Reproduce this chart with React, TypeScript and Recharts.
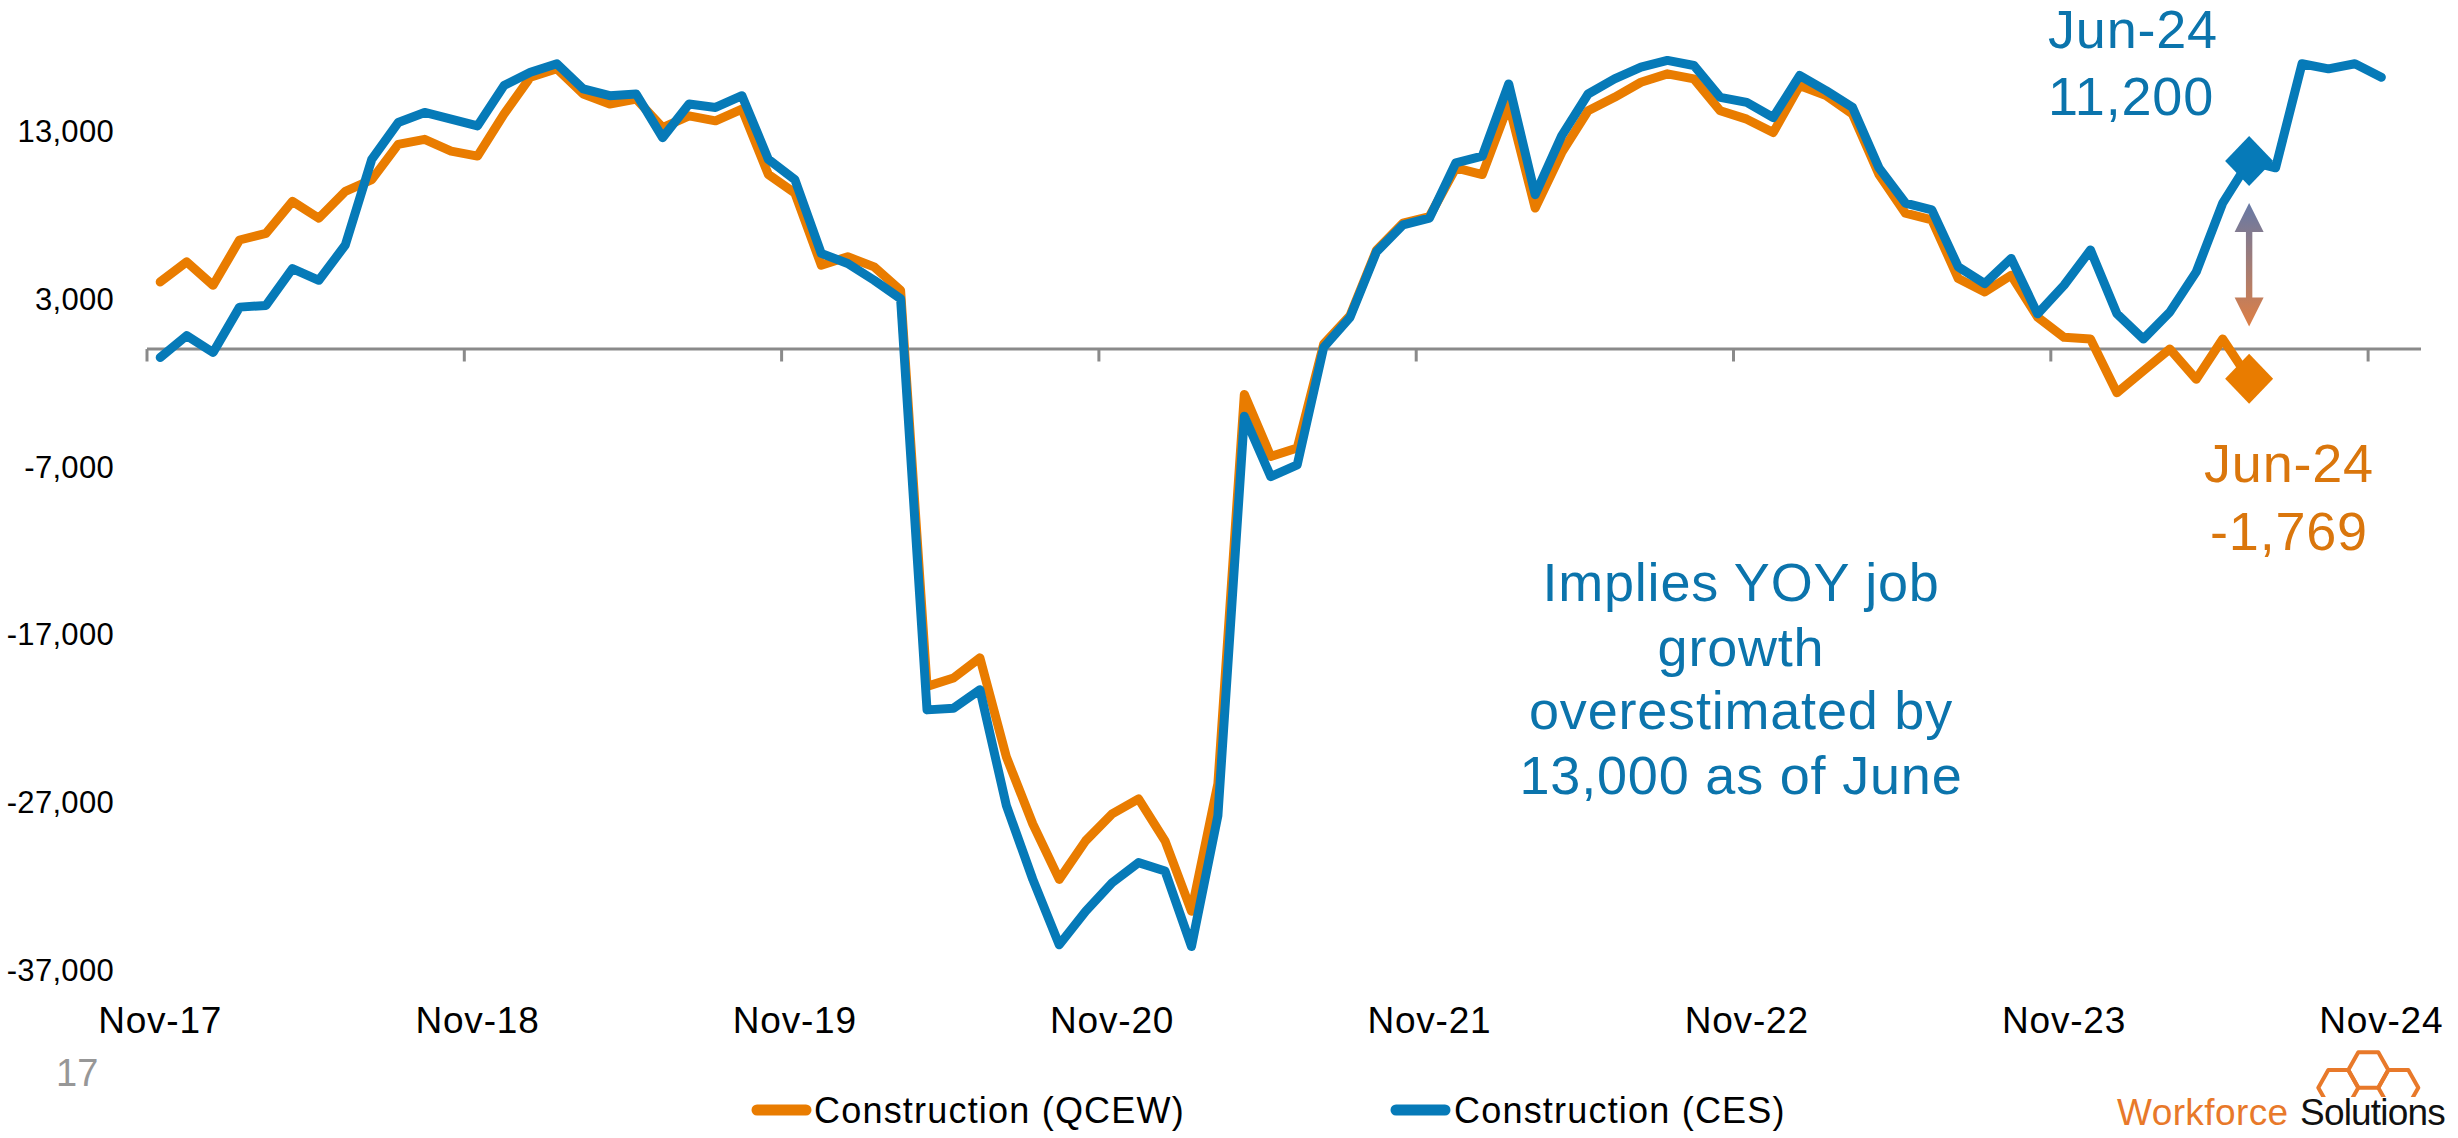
import React from 'react';
import { LineChart, Line, XAxis, YAxis, ReferenceLine } from 'recharts';

const months = [
  'Nov-17', 'Dec-17',
  'Jan-18', 'Feb-18', 'Mar-18', 'Apr-18', 'May-18', 'Jun-18', 'Jul-18', 'Aug-18', 'Sep-18', 'Oct-18', 'Nov-18', 'Dec-18',
  'Jan-19', 'Feb-19', 'Mar-19', 'Apr-19', 'May-19', 'Jun-19', 'Jul-19', 'Aug-19', 'Sep-19', 'Oct-19', 'Nov-19', 'Dec-19',
  'Jan-20', 'Feb-20', 'Mar-20', 'Apr-20', 'May-20', 'Jun-20', 'Jul-20', 'Aug-20', 'Sep-20', 'Oct-20', 'Nov-20', 'Dec-20',
  'Jan-21', 'Feb-21', 'Mar-21', 'Apr-21', 'May-21', 'Jun-21', 'Jul-21', 'Aug-21', 'Sep-21', 'Oct-21', 'Nov-21', 'Dec-21',
  'Jan-22', 'Feb-22', 'Mar-22', 'Apr-22', 'May-22', 'Jun-22', 'Jul-22', 'Aug-22', 'Sep-22', 'Oct-22', 'Nov-22', 'Dec-22',
  'Jan-23', 'Feb-23', 'Mar-23', 'Apr-23', 'May-23', 'Jun-23', 'Jul-23', 'Aug-23', 'Sep-23', 'Oct-23', 'Nov-23', 'Dec-23',
  'Jan-24', 'Feb-24', 'Mar-24', 'Apr-24', 'May-24', 'Jun-24', 'Jul-24', 'Aug-24', 'Sep-24', 'Oct-24', 'Nov-24', 'Dec-24',
];

// Construction (QCEW), Nov-17 .. Jun-24
const qcew = [
  4000, 5200, 3800, 6500, 6900, 8800, 7800, 9400, 10100, 12200, 12500, 11800,
  11500, 14000, 16200, 16700, 15200, 14600, 14900, 13200, 13900, 13600, 14300, 10400,
  9300, 5000, 5500, 4900, 3500, -20100, -19600, -18400, -24300, -28300, -31600, -29300,
  -27700, -26800, -29300, -33500, -25900, -2700, -6400, -5900, 300, 2000, 5900, 7500,
  7900, 10800, 10400, 14600, 8400, 11700, 14200, 15000, 15900, 16400, 16100, 14200,
  13700, 12900, 15700, 15100, 14000, 10400, 8100, 7700, 4200, 3400, 4400, 1900,
  700, 600, -2600, -1300, 0, -1800, 600, -1769,
];

// Construction (CES), Nov-17 .. Nov-24
const ces = [
  -500, 800, -200, 2500, 2600, 4800, 4100, 6200, 11300, 13500, 14100, 13700,
  13300, 15700, 16500, 17000, 15500, 15100, 15200, 12600, 14600, 14400, 15100, 11300,
  10100, 5700, 5100, 4100, 3000, -21500, -21400, -20300, -27200, -31600, -35500, -33500,
  -31800, -30600, -31100, -35600, -27800, -4000, -7600, -6900, 100, 1900, 5800, 7400,
  7800, 11100, 11500, 15800, 9200, 12700, 15200, 16100, 16800, 17200, 16900, 15000,
  14700, 13800, 16300, 15400, 14400, 10800, 8700, 8300, 4900, 3900, 5400, 2100,
  3800, 5900, 2100, 600, 2200, 4600, 8700, 11200, 10800, 17000, 16700, 17000,
  16200,
];

const yTicks = [-37000, -27000, -17000, -7000, 3000, 13000];
const xLabelIndex = [0, 12, 24, 36, 48, 60, 72, 84];
const axisTickAt = [-0.5, 11.5, 23.5, 35.5, 47.5, 59.5, 71.5, 83.5];
const highlightIndex = 79;
const arrowTop = 8700;
const arrowBottom = 1350;

const seriesNames = ['Construction (QCEW)', 'Construction (CES)'];
const ORANGE = '#E97C00';
const BLUE = '#067AB8';
const BLUE_TEXT = '#0B74AC';
const ORANGE_TEXT = '#DA760C';
const LOGO_ORANGE = '#E8792A';
const FONT = '"Liberation Sans", Arial, sans-serif';

const data = months.map((m, i) => ({
  i,
  month: m,
  qcew: i < qcew.length ? qcew[i] : null,
  ces: i < ces.length ? ces[i] : null,
}));

const fmt = (v: number) => v.toLocaleString('en-US');

const makeDot = (color: string) => (props: any) => {
  const { cx, cy, index } = props;
  if (index !== highlightIndex || cx == null || cy == null) return <g key={`dot-${index}`} />;
  return (
    <polygon
      key={`dot-${index}`}
      points={`${cx},${cy - 25} ${cx + 24},${cy} ${cx},${cy + 25} ${cx - 24},${cy}`}
      fill={color}
    />
  );
};

const ArrowShape = (props: any) => {
  const { x1, y1, y2 } = props;
  const x = x1;
  const top = Math.min(y1, y2);
  const bot = Math.max(y1, y2);
  const head = 29;
  const hw = 14.5;
  const sw = 3.2;
  const d = `M${x},${top} L${x + hw},${top + head} L${x + sw},${top + head} L${x + sw},${bot - head} L${x + hw},${bot - head} L${x},${bot} L${x - hw},${bot - head} L${x - sw},${bot - head} L${x - sw},${top + head} L${x - hw},${top + head} Z`;
  return (
    <g>
      <defs>
        <linearGradient id="arrowGrad" gradientUnits="userSpaceOnUse" x1={x} y1={top} x2={x} y2={bot}>
          <stop offset="0" stopColor="#6679A6" />
          <stop offset="1" stopColor="#DE7F45" />
        </linearGradient>
      </defs>
      <path d={d} fill="url(#arrowGrad)" />
    </g>
  );
};

const hexPath = (cx: number, cy: number, w: number, h: number) => {
  const a = w / 2, b = w / 4, c = h / 2;
  return `M${cx - a},${cy} L${cx - b},${cy - c} L${cx + b},${cy - c} L${cx + a},${cy} L${cx + b},${cy + c} L${cx - b},${cy + c} Z`;
};

export default function App() {
  return (
    <div style={{ position: 'absolute', left: 0, top: 0, width: 2458, height: 1138, background: '#fff', fontFamily: FONT }}>
      <LineChart
        width={2458}
        height={1138}
        data={data}
        margin={{ top: 47, right: 37, bottom: 108, left: 0 }}
      >
        <XAxis
          type="number"
          dataKey="i"
          domain={[-0.5, 85.5]}
          ticks={xLabelIndex}
          interval={0}
          tickFormatter={(v: number) => months[v]}
          axisLine={false}
          tickLine={false}
          tickSize={0}
          tickMargin={37}
          height={60}
          tick={{ fontSize: 37, fill: '#000', fontFamily: FONT, letterSpacing: 0.8 }}
        />
        <YAxis
          type="number"
          domain={[-37000, 18000]}
          ticks={yTicks}
          interval={0}
          tickFormatter={fmt}
          axisLine={false}
          tickLine={false}
          tickSize={0}
          tickMargin={33}
          width={147}
          tick={{ fontSize: 31, fill: '#000', fontFamily: FONT, letterSpacing: 0.3 }}
        />
        <ReferenceLine y={0} stroke="#8A8A8A" strokeWidth={3} />
        {axisTickAt.map((t) => (
          <ReferenceLine
            key={`tk-${t}`}
            segment={[{ x: t, y: 0 }, { x: t, y: -740 }]}
            stroke="#8A8A8A"
            strokeWidth={3}
            ifOverflow="visible"
          />
        ))}
        <Line
          type="linear"
          dataKey="qcew"
          name={seriesNames[0]}
          stroke={ORANGE}
          strokeWidth={9}
          strokeLinejoin="round"
          strokeLinecap="round"
          dot={makeDot(ORANGE)}
          activeDot={false}
          isAnimationActive={false}
        />
        <Line
          type="linear"
          dataKey="ces"
          name={seriesNames[1]}
          stroke={BLUE}
          strokeWidth={9}
          strokeLinejoin="round"
          strokeLinecap="round"
          dot={makeDot(BLUE)}
          activeDot={false}
          isAnimationActive={false}
        />
        <ReferenceLine
          segment={[{ x: highlightIndex, y: arrowTop }, { x: highlightIndex, y: arrowBottom }]}
          shape={ArrowShape}
          ifOverflow="visible"
        />
      </LineChart>
      <svg
        width={2458}
        height={1138}
        style={{ position: 'absolute', left: 0, top: 0, pointerEvents: 'none' }}
      >
        <defs>
          <clipPath id="logoClip">
            <rect x={2300} y={1040} width={140} height={57} />
          </clipPath>
        </defs>
        <g fontFamily={FONT}>
          <g letterSpacing={0.8}>
            <text x={2133} y={48} fontSize={54} fill={BLUE_TEXT} textAnchor="middle">{months[highlightIndex]}</text>
            <text x={2131} y={115} fontSize={54} fill={BLUE_TEXT} textAnchor="middle">{fmt(ces[highlightIndex])}</text>
            <text x={2289} y={482} fontSize={54} fill={ORANGE_TEXT} textAnchor="middle">{months[highlightIndex]}</text>
            <text x={2289} y={550} fontSize={54} fill={ORANGE_TEXT} textAnchor="middle">{fmt(qcew[highlightIndex])}</text>
            <text x={1741} fontSize={54} fill={BLUE_TEXT} textAnchor="middle">
              <tspan x={1741} y={601}>Implies YOY job</tspan>
              <tspan x={1741} y={666}>growth</tspan>
              <tspan x={1741} y={729}>overestimated by</tspan>
              <tspan x={1741} y={794}>13,000 as of June</tspan>
            </text>
          </g>
          <line x1={757} y1={1110} x2={806} y2={1110} stroke={ORANGE} strokeWidth={11} strokeLinecap="round" />
          <text x={814} y={1123} fontSize={36} fill="#000" letterSpacing={1.2}>{seriesNames[0]}</text>
          <line x1={1396} y1={1110} x2={1445} y2={1110} stroke={BLUE} strokeWidth={11} strokeLinecap="round" />
          <text x={1454} y={1123} fontSize={36} fill="#000" letterSpacing={1.2}>{seriesNames[1]}</text>
          <text x={56} y={1086} fontSize={38} fill="#979797">17</text>
          <g fill="none" stroke={LOGO_ORANGE} strokeWidth={4} strokeLinejoin="round" clipPath="url(#logoClip)">
            <path d={hexPath(2368.3, 1070, 40, 35.4)} />
            <path d={hexPath(2338.3, 1087.7, 40, 35.4)} />
            <path d={hexPath(2398.3, 1087.7, 40, 35.4)} />
          </g>
          <text x={2117} y={1125} fontSize={37} fill={LOGO_ORANGE} letterSpacing={0.4}>Workforce</text>
          <text x={2300} y={1125} fontSize={37} fill="#111" letterSpacing={-0.8}>Solutions</text>
        </g>
      </svg>
    </div>
  );
}
